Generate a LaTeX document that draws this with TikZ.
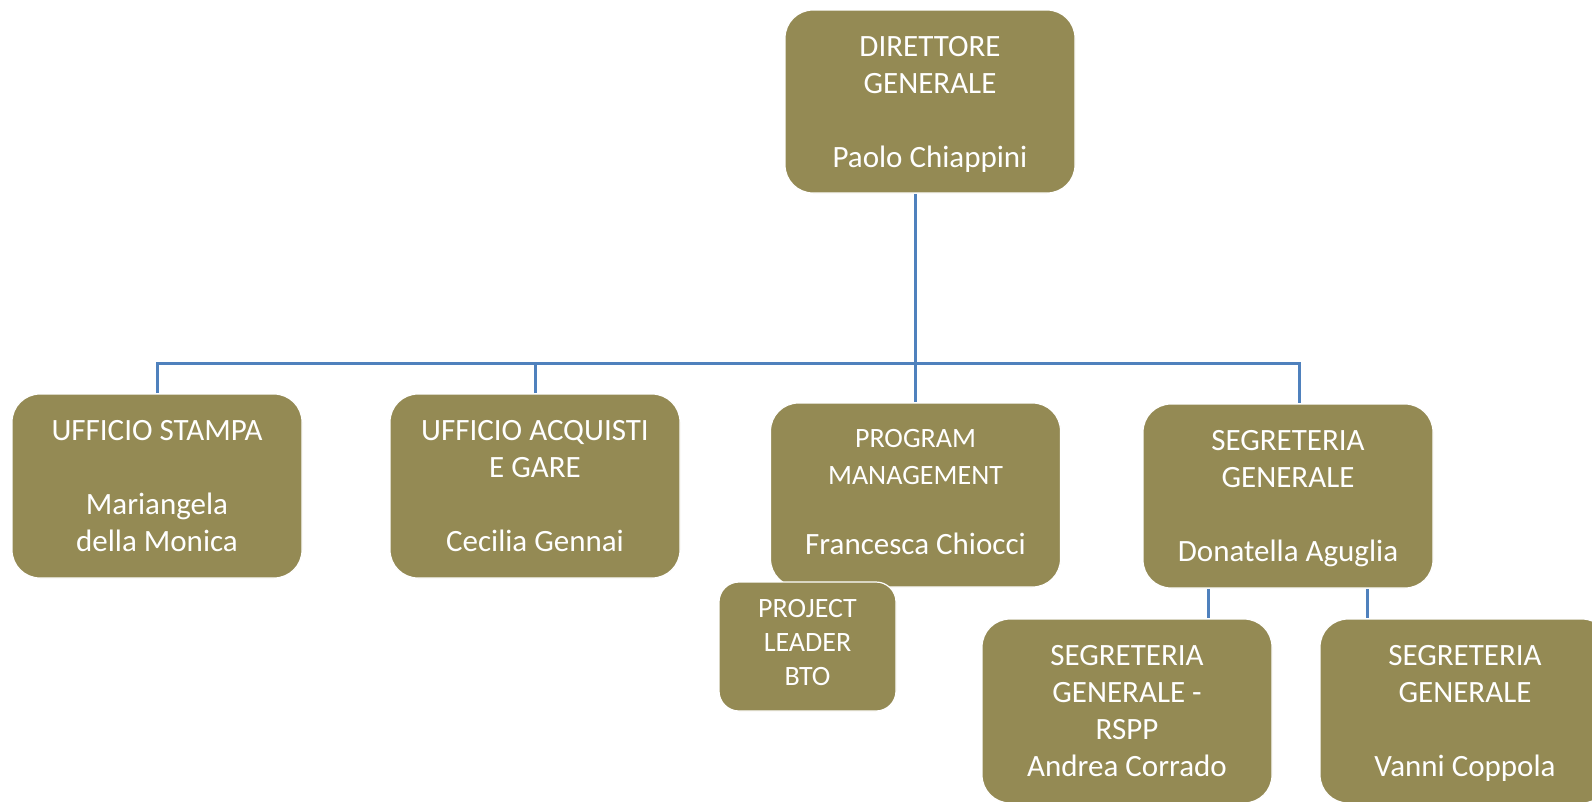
\documentclass[tikz,border=0pt]{standalone}
\usepackage{fontspec}
\setmainfont{Carlito}
\usepackage{tikz}
\usetikzlibrary{positioning, backgrounds}
\definecolor{boxolive}{RGB}{148,138,84}
\definecolor{linkblue}{RGB}{79,129,189}
\newcommand{\headsize}{\fontsize{28}{34}\selectfont}
\newcommand{\namesize}{\fontsize{31}{37}\selectfont}
\tikzset{
  unit/.style = {rectangle, rounded corners=28pt, fill=boxolive, draw=white,
    line width=1.2pt, text=white, align=center, inner sep=0pt,
    minimum width=290pt, minimum height=184pt, font=\namesize},
  subunit/.style = {unit, rounded corners=20pt, minimum width=177pt,
    minimum height=129pt, font=\headsize},
  link/.style = {draw=linkblue, line width=3pt}
}

\begin{document}
\begin{tikzpicture}[x=1pt, y=-1pt]
\useasboundingbox (0,0) rectangle (1592,801);
\clip (0,0) rectangle (1592,801);
\node [unit, minimum height=183pt, text depth=0pt] (dg) at (930,101.5) {DIRETTORE\\GENERALE\\[37pt]Paolo Chiappini};
\node [unit] (us) at (157,486) {UFFICIO STAMPA\\[37pt]Mariangela\\della Monica};
\node [unit] (ua) at (535,486) {UFFICIO ACQUISTI\\E GARE\\[37pt]Cecilia Gennai};
\node [unit, text depth=6pt] (pm) at (915.5,495) {\headsize PROGRAM\\\headsize MANAGEMENT\\[33pt]Francesca Chiocci};
\node [unit, text depth=0pt] (sg) at (1288,496) {SEGRETERIA\\GENERALE\\[37pt]Donatella Aguglia};
\node [subunit, text depth=9pt] (pl) at (807.5,646.5) {PROJECT\\LEADER\\BTO};
\node [unit] (rspp) at (1127,711) {SEGRETERIA\\GENERALE -\\RSPP\\Andrea Corrado};
\node [unit, text depth=0pt] (sgv) at (1465,711) {SEGRETERIA\\GENERALE\\[37pt]Vanni Coppola};
\coordinate (bus) at (917,363);
\begin{scope}[on background layer]
\draw [link] (dg.south -| pm.north) -- (pm.north);
\draw [link] (us.north) -- (us.north |- bus) -- ([xshift=11pt]sg.north |- bus) -- ([xshift=11pt]sg.north);
\draw [link] (ua.north) -- (ua.north |- bus);
\draw [link] ([xshift=-80pt]sg.south) -- ([xshift=-80pt]sg.south |- rspp.north);
\draw [link] ([xshift=79pt]sg.south) -- ([xshift=79pt]sg.south |- sgv.north);
\end{scope}
\end{tikzpicture}
\end{document}
